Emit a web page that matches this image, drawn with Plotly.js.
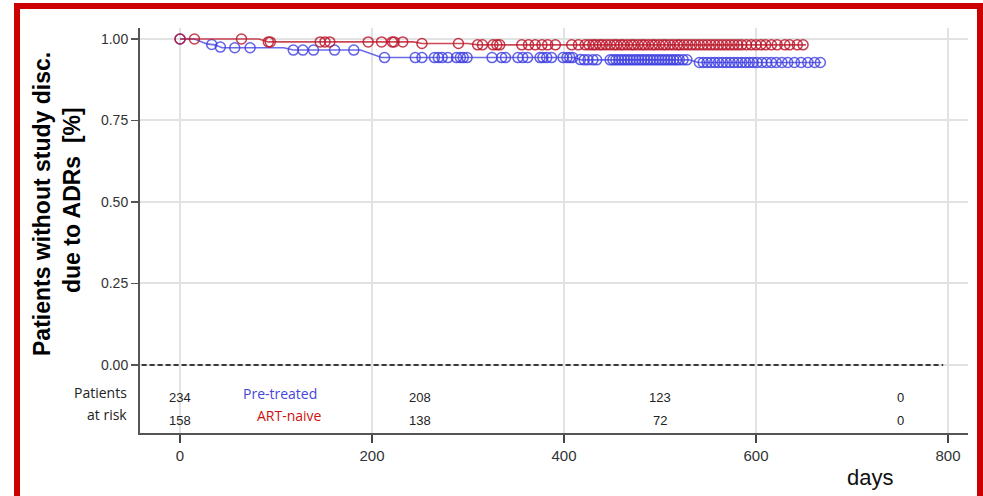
<!DOCTYPE html>
<html>
<head>
<meta charset="utf-8">
<script src="https://cdn.plot.ly/plotly-3.0.1.min.js"></script>
<style>html,body{margin:0;padding:0;background:#fff;}#chart{width:983px;height:496px;}</style>
</head>
<body>
<div id="chart"></div>
<script>
// Kaplan-Meier curve (line vertices) for each group
const naiveLineDays = [0, 82, 92, 243, 252, 300, 310, 652];
const naiveLineSurv = [1.0, 1.0, 0.991, 0.991, 0.986, 0.986, 0.982, 0.982];
const pretLineDays = [0, 15, 28, 36, 44, 108, 118, 188, 210, 410, 418, 530, 540, 668];
const pretLineSurv = [1.0, 1.0, 0.985, 0.982, 0.973, 0.973, 0.966, 0.966, 0.943, 0.943, 0.936, 0.936, 0.928, 0.928];

// Censored observations (days)
const naiveCensorDays = [0, 15, 64, 92, 94, 146, 151, 156, 196, 210, 221, 223, 232, 252, 290, 310, 315, 326, 330, 333,
  356, 363, 370, 377, 383, 391, 408, 415, 422, 426, 430, 433, 437, 440, 444, 448, 452, 455, 459, 462, 466, 470,
  473, 477, 481, 484, 488, 492, 495, 499, 503, 506, 510, 514, 518, 521, 525, 529, 533, 537, 541, 545, 549, 553,
  557, 561, 565, 569, 573, 577, 581, 585, 590, 595, 600, 605, 610, 616, 622, 630, 635, 643, 649];
const pretCensorDays = [0, 33, 42, 57, 73, 118, 128, 139, 161, 181, 213, 245, 252, 265, 269, 273, 279, 288, 292, 295,
  299, 325, 335, 339, 352, 357, 362, 375, 378, 382, 387, 399, 403, 406, 409, 417, 421, 425, 430, 434, 448, 451,
  454, 457, 460, 463, 466, 469, 472, 475, 478, 481, 484, 487, 490, 493, 496, 499, 502, 505, 508, 511, 514, 517,
  520, 524, 528, 541, 545, 549, 553, 557, 561, 565, 569, 573, 577, 581, 585, 589, 593, 597, 601, 606, 611, 616,
  621, 627, 633, 640, 647, 654, 661, 667];

// Patients at risk table
const riskDays = [0, 250, 500, 750];
const pretRisk = [234, 208, 123, 0];
const naiveRisk = [158, 138, 72, 0];

const xTicks = [0, 200, 400, 600, 800];
const yTicks = [0, 0.25, 0.5, 0.75, 1.0];
const yTickText = ['0.00', '0.25', '0.50', '0.75', '1.00'];

function curveAt(days, surv, t) {
  for (let i = 0; i < days.length - 1; i++) {
    if (t >= days[i] && t <= days[i + 1]) {
      const f = days[i + 1] === days[i] ? 0 : (t - days[i]) / (days[i + 1] - days[i]);
      return surv[i] + f * (surv[i + 1] - surv[i]);
    }
  }
  return surv[surv.length - 1];
}

const BLUE_L = 'rgba(80,80,230,0.85)';
const BLUE_M = 'rgba(60,60,225,0.8)';
const RED_L = 'rgba(195,40,55,0.85)';
const RED_M = 'rgba(185,20,40,0.82)';

const traces = [
  {x: pretLineDays, y: pretLineSurv, mode: 'lines', line: {color: BLUE_L, width: 1.6}, hoverinfo: 'skip', showlegend: false},
  {x: pretCensorDays, y: pretCensorDays.map(t => curveAt(pretLineDays, pretLineSurv, t)), mode: 'markers',
   marker: {symbol: 'circle-open', size: 10, color: BLUE_M, line: {width: 1.5}}, showlegend: false},
  {x: naiveLineDays, y: naiveLineSurv, mode: 'lines', line: {color: RED_L, width: 1.6}, hoverinfo: 'skip', showlegend: false},
  {x: naiveCensorDays, y: naiveCensorDays.map(t => curveAt(naiveLineDays, naiveLineSurv, t)), mode: 'markers',
   marker: {symbol: 'circle-open', size: 10, color: RED_M, line: {width: 1.5}}, showlegend: false}
];

const annotations = [];
const numFont = {family: 'Liberation Sans, Arial, sans-serif', size: 13, color: '#222'};
riskDays.forEach((d, i) => {
  annotations.push({x: d, y: (365 - 397) / 326, xref: 'x', yref: 'y', xanchor: 'center', yanchor: 'middle',
    text: String(pretRisk[i]), showarrow: false, font: numFont});
  annotations.push({x: d, y: (365 - 420) / 326, xref: 'x', yref: 'y', xanchor: 'center', yanchor: 'middle',
    text: String(naiveRisk[i]), showarrow: false, font: numFont});
});
const labFont = {family: 'Open Sans, Noto Sans, sans-serif', size: 14, color: '#222'};
annotations.push({x: (129 - 140) / 828, y: (433 - 392) / 405, xref: 'paper', yref: 'paper', xanchor: 'right', yanchor: 'middle',
  text: 'Patients', showarrow: false, font: labFont});
annotations.push({x: (129 - 140) / 828, y: (433 - 414) / 405, xref: 'paper', yref: 'paper', xanchor: 'right', yanchor: 'middle',
  text: 'at risk', showarrow: false, font: labFont});
annotations.push({x: (280 - 180) / 0.96, y: (365 - 393) / 326, xref: 'x', yref: 'y', xanchor: 'center', yanchor: 'middle',
  text: 'Pre-treated', showarrow: false, font: {family: 'Open Sans, Noto Sans, sans-serif', size: 14, color: '#4646dc'}});
annotations.push({x: (289 - 180) / 0.96, y: (365 - 415) / 326, xref: 'x', yref: 'y', xanchor: 'center', yanchor: 'middle',
  text: 'ART-naive', showarrow: false, font: {family: 'Open Sans, Noto Sans, sans-serif', size: 14, color: '#cc1111'}});
annotations.push({x: (870 - 140) / 828, y: (433 - 477) / 405, xref: 'paper', yref: 'paper', xanchor: 'center', yanchor: 'middle',
  text: 'days', showarrow: false, font: {family: 'Liberation Sans, Arial, sans-serif', size: 22, color: '#111'}});
const ytFont = {family: 'Liberation Sans, Arial, sans-serif', size: 23, color: '#000'};
annotations.push({x: (42 - 140) / 828, y: (433 - 204) / 405, xref: 'paper', yref: 'paper', xanchor: 'center', yanchor: 'middle',
  textangle: -90, text: '<b>Patients without study disc.</b>', showarrow: false, font: ytFont});
annotations.push({x: (72 - 140) / 828, y: (433 - 200) / 405, xref: 'paper', yref: 'paper', xanchor: 'center', yanchor: 'middle',
  textangle: -90, text: '<b>due to ADRs \u00a0[%]</b>', showarrow: false, font: ytFont});

const layout = {
  width: 983, height: 496,
  margin: {l: 140, r: 15, t: 28, b: 63},
  paper_bgcolor: '#fff', plot_bgcolor: '#fff',
  showlegend: false,
  xaxis: {
    range: [-41.7, 820.8], tickvals: xTicks, ticktext: xTicks.map(String),
    showgrid: true, gridcolor: '#e2e2e2', gridwidth: 2, zeroline: false,
    showline: true, linecolor: '#555', linewidth: 2,
    ticks: 'outside', ticklen: 8, tickwidth: 2, tickcolor: '#444',
    tickfont: {family: 'Liberation Sans, Arial, sans-serif', size: 15, color: '#333'}
  },
  yaxis: {
    range: [-0.2086, 1.0337], tickvals: yTicks, ticktext: yTickText,
    showgrid: true, gridcolor: '#e2e2e2', gridwidth: 2, zeroline: false,
    showline: true, linecolor: '#555', linewidth: 2,
    ticks: 'outside', ticklen: 7, tickwidth: 1.5, tickcolor: '#555',
    tickfont: {family: 'Liberation Sans, Arial, sans-serif', size: 14, color: '#333'}
  },
  shapes: [
    {type: 'line', xref: 'x', yref: 'y', x0: -40, x1: 795, y0: 0, y1: 0, line: {color: '#000', width: 1.5, dash: '5px,3px'}},
    {type: 'rect', xref: 'paper', yref: 'paper', x0: (17 - 140) / 828, x1: (980 - 140) / 828, y0: (433 - 520) / 405, y1: (433 - 6) / 405,
     line: {color: '#cc0000', width: 6}, fillcolor: 'rgba(0,0,0,0)'}
  ],
  annotations: annotations
};

Plotly.newPlot('chart', traces, layout, {displayModeBar: false, staticPlot: true});
</script>
</body>
</html>
